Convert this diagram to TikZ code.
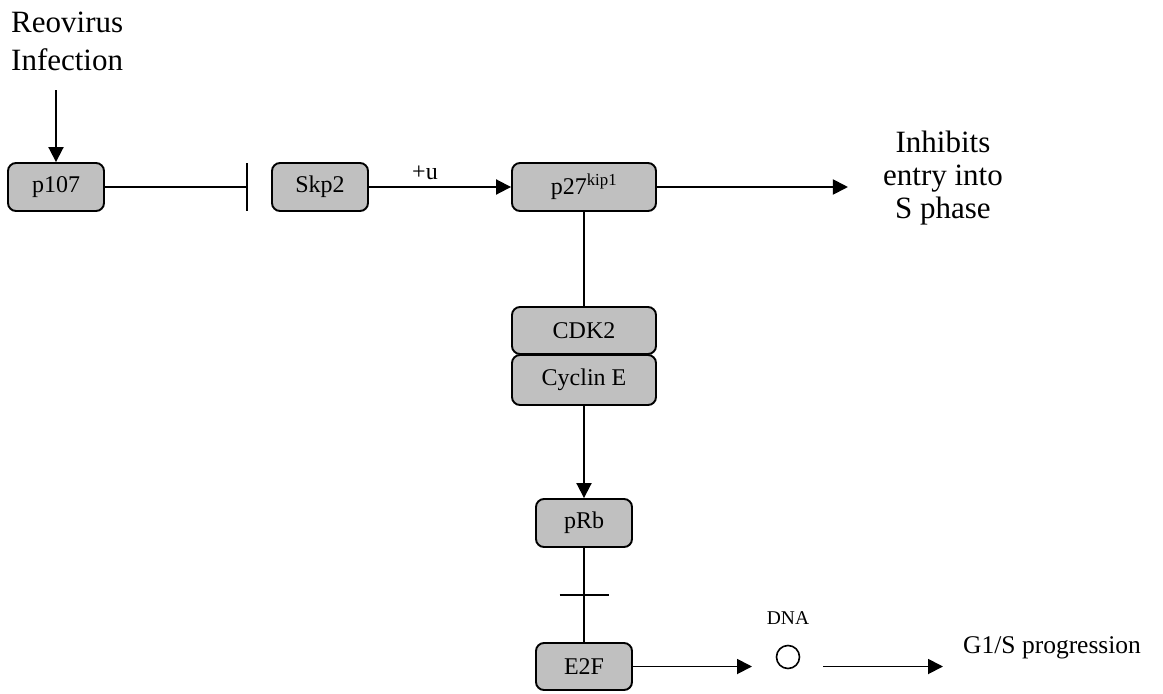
\documentclass[tikz,border=0pt]{standalone}
\usepackage{fontspec}
\setmainfont{Liberation Serif}
\usetikzlibrary{arrows.meta,calc}
\newcommand{\fsz}[2]{\fontsize{#1}{#2}\selectfont}
\tikzset{
  protein/.style={draw, line width=1.9pt, rounded corners=8pt, fill=boxgray,
    inner sep=0pt, minimum height=48pt, font=\fsz{24}{28}},
  link/.style={line width=1.9pt},
  act/.style={link, -{Triangle[length=15pt,width=15pt]}},
  inhib/.style={link, -{Bar[width=48pt]}},
  label/.style={inner sep=0pt, font=\fsz{31}{38}}
}
\definecolor{boxgray}{RGB}{192,192,192}
\begin{document}
\begin{tikzpicture}[x=1pt,y=-1pt]
\useasboundingbox (0,0) rectangle (1163,694);

% trigger
\node[label, anchor=north west, align=left] (reo) at (11,12) {Reovirus\\Infection};
\coordinate (reoend) at (56,90);

% top row
\node[protein, minimum width=96pt] (p107) at (56,187) {p107};
\node[protein, minimum width=96pt] (skp2) at (320,187) {Skp2};
\node[protein, minimum width=144pt] (p27) at (584,187) {p27\textsuperscript{kip1}};
\node[label, anchor=north, align=center, font=\fsz{31}{33}] (inh) at (943,131)
  {Inhibits\\entry into\\S phase};
\coordinate (bar1) at (248,187);

% CDK2 / Cyclin E complex
\node[protein, minimum width=144pt, minimum height=47pt] (cdk2) at (584,330.5) {CDK2};
\node[protein, minimum width=144pt, minimum height=50pt] (cyce) at (584,380) {Cyclin E};

% lower column
\node[protein, minimum width=96pt] (prb) at (584,523) {pRb};
\node[protein, minimum width=96pt, minimum height=47pt] (e2f) at (584,666.5) {E2F};

% DNA and outcome
\node[draw, circle, line width=1.6pt, minimum size=23pt, inner sep=0pt] (dna) at (788,657) {};
\node[inner sep=0pt, font=\fsz{19.5}{22}] (dnalbl) at (788,618) {DNA};
\node[inner sep=0pt, anchor=base west, font=\fsz{25.5}{30}] (g1s) at (963,653) {G1/S progression};

% connectors
\draw[act] (reoend) -- (p107.north);
\draw[inhib] (p107.east) -- (bar1);
\draw[act] (skp2.east) -- node[above=6pt, inner sep=0pt, font=\fsz{24}{28}, xshift=-15pt] {+u} (p27.west);
\draw[act] (p27.east) -- ([xshift=-35pt]inh.west |- p27.east);
\draw[link] (p27.south) -- (cdk2.north);
\draw[act] (cyce.south) -- (prb.north);
\draw[link] (prb.south) -- coordinate (blk) (e2f.north);
\draw[link] ([xshift=-24.5pt]blk) -- ([xshift=24.5pt]blk);
\draw[act] (e2f.east) -- ([xshift=-36pt]e2f.east -| dna.center);
\draw[act] ([xshift=35pt]e2f.east -| dna.center) -- ([xshift=-20pt]e2f.east -| g1s.west);
\end{tikzpicture}
\end{document}
